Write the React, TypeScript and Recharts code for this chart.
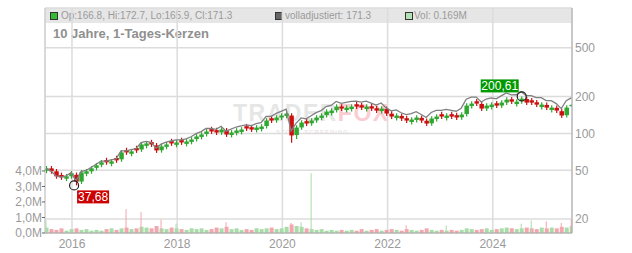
import React from "react";
import {
  ComposedChart,
  Bar,
  Line,
  XAxis,
  YAxis,
  CartesianGrid,
  Cell,
  ReferenceDot,
} from "recharts";

// candles sampled about every 5 weeks, mid 2015 -> mid 2025
const CLOSE = [
  51.9, 49.1, 44.7, 43.8, 44.7, 47.3, 40.5, 48.1, 49.1, 51.9,
  54.9, 58.1, 58.1, 59.2, 60.3, 70.0, 70.0, 71.4, 72.7, 81.3,
  82.9, 81.3, 72.7, 78.4, 81.3, 82.9, 84.5, 84.5, 86.0, 89.3,
  94.5, 98.1, 103.8, 103.8, 101.8, 107.7, 98.1, 101.8, 105.7, 107.7,
  109.7, 107.7, 111.8, 113.9, 127.5, 127.5, 134.9, 140.0, 145.4, 96.3,
  111.8, 122.8, 120.5, 127.5, 134.9, 140.0, 150.9, 153.7, 165.7, 159.6,
  162.6, 165.7, 165.7, 162.6, 165.7, 159.6, 153.7, 159.6, 145.4, 137.4,
  140.0, 132.4, 127.5, 129.9, 134.9, 127.5, 120.5, 132.4, 137.4, 137.4,
  140.0, 137.4, 134.9, 142.7, 168.8, 175.3, 175.3, 159.6, 168.8, 172.0,
  168.8, 178.6, 188.8, 181.9, 181.9, 192.4, 178.6, 178.6, 172.0, 172.0,
  162.6, 162.6, 153.7, 140.0, 162.6, 171.3,
];
const OPEN = [
  49.6, 51.9, 49.1, 45.8, 42.7, 44.7, 46.0, 40.5, 46.9, 49.1,
  52.4, 55.5, 60.7, 56.6, 63.0, 61.5, 73.2, 68.2, 76.0, 74.0,
  79.2, 85.0, 80.0, 73.0, 77.7, 86.6, 80.7, 88.3, 82.2, 85.3,
  90.0, 93.7, 99.0, 108.5, 106.4, 102.0, 106.0, 97.2, 101.0, 102.9,
  114.6, 112.5, 106.8, 108.8, 115.0, 133.2, 128.0, 134.9, 139.0, 140.0,
  97.0, 112.0, 125.9, 121.0, 128.0, 134.0, 141.0, 146.8, 155.0, 166.0,
  155.3, 158.2, 173.2, 169.9, 158.2, 166.8, 160.6, 152.4, 159.0, 145.0,
  133.7, 139.0, 133.2, 124.1, 128.8, 134.0, 127.0, 121.0, 131.2, 143.6,
  133.7, 143.6, 141.0, 135.5, 144.0, 167.4, 183.2, 174.0, 160.0, 164.3,
  176.4, 169.0, 179.0, 190.1, 173.7, 183.0, 191.0, 186.6, 179.7, 164.3,
  171.0, 155.3, 162.0, 152.0, 141.0, 166.8,
];
const HIGH = [
  54.3, 54.2, 51.3, 47.9, 46.7, 49.4, 48.0, 50.3, 51.3, 54.2,
  57.4, 60.7, 63.4, 61.9, 65.8, 73.2, 76.5, 74.6, 79.4, 85.0,
  86.6, 88.8, 83.6, 81.9, 85.0, 90.5, 88.3, 92.3, 89.9, 93.3,
  98.8, 102.5, 108.5, 113.4, 111.2, 112.5, 110.8, 106.4, 110.5, 112.5,
  119.8, 117.6, 116.8, 119.0, 133.2, 139.2, 141.0, 146.3, 151.9, 146.3,
  116.8, 128.3, 131.6, 133.2, 141.0, 146.3, 157.7, 160.6, 173.2, 173.5,
  169.9, 173.2, 181.0, 177.5, 173.2, 174.3, 167.8, 166.8, 166.2, 151.5,
  146.3, 145.3, 139.2, 135.7, 141.0, 140.0, 132.7, 138.4, 143.6, 150.1,
  146.3, 150.1, 147.3, 149.1, 176.4, 183.2, 191.4, 181.8, 176.4, 179.7,
  184.3, 186.6, 197.3, 198.7, 190.1, 200.61, 199.6, 195.0, 187.8, 179.7,
  178.7, 169.9, 169.3, 158.8, 169.9, 172.7,
];
const LOW = [
  47.4, 46.9, 42.7, 41.8, 40.8, 42.7, 37.68, 38.7, 44.8, 46.9,
  50.0, 53.0, 55.5, 54.0, 57.6, 58.7, 66.9, 65.1, 69.4, 70.7,
  75.6, 77.6, 69.4, 69.7, 74.2, 79.2, 77.1, 80.7, 78.5, 81.5,
  86.0, 89.5, 94.5, 99.1, 97.2, 97.4, 93.7, 92.8, 96.5, 98.3,
  104.8, 102.9, 102.0, 103.9, 109.8, 121.8, 122.3, 128.9, 132.8, 84.0,
  90.0, 107.0, 115.1, 115.6, 122.3, 128.0, 134.7, 140.2, 148.0, 152.4,
  148.3, 151.1, 158.2, 155.3, 151.1, 152.4, 146.8, 145.5, 138.9, 131.2,
  127.7, 126.4, 121.8, 118.5, 123.0, 121.8, 115.1, 115.6, 125.3, 131.2,
  127.7, 131.2, 128.8, 129.4, 137.5, 159.9, 167.4, 152.4, 152.8, 156.9,
  161.2, 161.4, 170.9, 173.7, 165.9, 174.8, 170.6, 170.6, 164.3, 156.9,
  155.3, 148.3, 146.8, 133.7, 134.7, 165.9,
];
// volladjustiert (grey line)
const ADJ = [
  52.0, 49.3, 45.0, 44.1, 45.1, 47.8, 41.0, 48.8, 49.9, 52.8,
  56.0, 59.4, 59.5, 60.8, 62.0, 72.1, 72.2, 73.8, 75.3, 84.3,
  86.1, 84.6, 75.8, 81.8, 85.0, 86.8, 88.6, 88.7, 90.4, 94.0,
  99.6, 103.6, 109.8, 110.0, 108.1, 114.6, 104.5, 108.6, 112.9, 115.2,
  117.6, 115.6, 120.1, 122.6, 137.5, 137.7, 145.9, 151.6, 157.8, 104.6,
  121.6, 133.8, 131.6, 139.5, 147.8, 153.7, 165.9, 169.2, 182.6, 176.0,
  179.5, 183.1, 183.3, 180.0, 183.6, 177.0, 170.6, 177.3, 161.7, 152.9,
  155.9, 147.6, 142.3, 145.1, 150.8, 142.7, 135.0, 148.4, 154.1, 154.3,
  157.4, 154.6, 151.9, 160.8, 190.4, 197.9, 198.1, 180.5, 191.1, 194.9,
  191.4, 202.7, 214.5, 206.8, 207.0, 219.2, 203.6, 203.6, 196.1, 196.1,
  185.4, 185.4, 175.2, 159.6, 185.4, 195.3,
];
// volume in millions
const VOLUME = [
  0.35, 0.25, 0.2, 0.3, 0.15, 0.25, 0.3, 0.2, 0.25, 0.15,
  0.2, 0.15, 0.25, 0.3, 0.2, 0.3, 0.35, 0.25, 0.3, 0.4,
  0.35, 0.3, 0.45, 0.3, 0.25, 0.35, 0.3, 0.25, 0.2, 0.3,
  0.25, 0.3, 0.2, 0.25, 0.35, 0.3, 0.4, 0.25, 0.3, 0.2,
  0.25, 0.2, 0.3, 0.25, 0.3, 0.35, 0.25, 0.3, 0.4, 0.55,
  0.45, 0.4, 0.3, 0.25, 0.2, 0.25, 0.15, 0.2, 0.15, 0.2,
  0.15, 0.2, 0.15, 0.25, 0.15, 0.2, 0.25, 0.15, 0.2, 0.25,
  0.2, 0.15, 0.25, 0.2, 0.15, 0.2, 0.3, 0.2, 0.15, 0.2,
  0.15, 0.2, 0.15, 0.2, 0.3, 0.25, 0.2, 0.25, 0.3, 0.2,
  0.25, 0.3, 0.35, 0.3, 0.25, 0.3, 0.35, 0.3, 0.25, 0.35,
  0.3, 0.35, 0.3, 0.4, 0.35, 0.45,
];
// single-day volume spikes (millions)
const SPIKE_DATES = [2015.54, 2017.07, 2017.31, 2017.7, 2018.0, 2018.97, 2020.15, 2020.34, 2020.5, 2022.34, 2023.1, 2024.5, 2024.7, 2024.99, 2025.26, 2025.49];
const SPIKE_VOLUME = [0.8, 1.55, 1.35, 0.85, 0.6, 0.7, 0.65, 0.7, 3.85, 0.5, 0.5, 0.6, 0.8, 0.75, 0.65, 0.85];
const SPIKE_UP = [true, false, false, false, true, false, false, true, true, false, true, true, true, false, false, false];

const YEAR_TICKS = [2016, 2018, 2020, 2022, 2024];
const PRICE_TICKS = [20, 50, 100, 200, 500];
const VOL_TICKS = [0, 1e6, 2e6, 3e6, 4e6];
const LOW_MARK = { t: 2016.04, v: 37.68 };
const HIGH_MARK = { t: 2024.55, v: 200.61 };

const DATES = CLOSE.map((_, i) => +(2015.506 + i * 0.0951).toFixed(4));

const UP = "#2fa82f";
const DOWN = "#cc1010";
const VOL_UP = "#a8dca8";
const VOL_DOWN = "#f2a6ae";
const FONT = '"Liberation Sans", Arial, sans-serif';
const TEXT = "#9a9a9a";

type Row = {
  t: number;
  o: number;
  h: number;
  l: number;
  c: number;
  adj: number;
  vol: number;
  up: boolean;
  spike?: number;
  spikeUp?: boolean;
};

const rows: Row[] = CLOSE.map((c, i) => ({
  t: DATES[i],
  o: OPEN[i],
  h: HIGH[i],
  l: LOW[i],
  c,
  adj: ADJ[i],
  vol: VOLUME[i] * 1e6,
  up: c >= OPEN[i],
}));

// put each spike on the nearest sampled day so the bars keep an even spacing
SPIKE_DATES.forEach((t, k) => {
  let best = 0;
  rows.forEach((r, i) => {
    if (Math.abs(r.t - t) < Math.abs(rows[best].t - t)) best = i;
  });
  rows[best].spike = SPIKE_VOLUME[k] * 1e6;
  rows[best].spikeUp = SPIKE_UP[k];
});

function Candle(props: any) {
  const { x, y, width, height, payload } = props;
  if (!payload || payload.l == null || !isFinite(y) || !isFinite(height)) return <g />;
  const lh = Math.log(payload.h);
  const ll = Math.log(payload.l);
  const at = (v: number) => y + (height * (lh - Math.log(v))) / (lh - ll);
  const color = payload.c >= payload.o ? UP : DOWN;
  const top = at(Math.max(payload.o, payload.c));
  const bot = at(Math.min(payload.o, payload.c));
  const cx = x + width / 2;
  return (
    <g>
      <line x1={cx} x2={cx} y1={y} y2={y + height} stroke={color} strokeWidth={1.2} />
      <rect x={x - 0.25} y={top} width={width + 0.5} height={Math.max(1, bot - top)} fill={color} />
    </g>
  );
}

function LowMarker(props: any) {
  const { cx, cy } = props;
  return (
    <g>
      <circle cx={cx} cy={cy} r={4.5} fill="none" stroke="#222" strokeWidth={1.2} />
      <rect x={cx + 3} y={cy + 5} width={32} height={13} fill="#cc0000" />
      <text x={cx + 19} y={cy + 15.5} textAnchor="middle" fill="#fff" fontSize={12} fontFamily={FONT}>
        37,68
      </text>
    </g>
  );
}

function HighMarker(props: any) {
  const { cx, cy } = props;
  return (
    <g>
      <circle cx={cx} cy={cy} r={4.5} fill="none" stroke="#222" strokeWidth={1.2} />
      <rect x={cx - 41} y={cy - 17} width={38} height={13} fill="#009900" />
      <text x={cx - 22} y={cy - 6.5} textAnchor="middle" fill="#fff" fontSize={12} fontFamily={FONT}>
        200,61
      </text>
    </g>
  );
}

const fmtVol = (v: number) => `${(v / 1e6).toFixed(1).replace(".", ",")}M`;

const legendBox = (left: number, fill: string) => (
  <span
    style={{
      position: "absolute",
      left,
      top: 4,
      width: 6,
      height: 6,
      background: fill,
      border: "1px solid #333",
    }}
  />
);

export default function App() {
  return (
    <div style={{ position: "absolute", left: 0, top: 0, width: 632, height: 253, background: "#fff", fontFamily: FONT }}>
      {/* header strip */}
      <div style={{ position: "absolute", left: 45, top: 8, width: 527, height: 15, background: "#e6e6e6", fontSize: 10, color: TEXT }}>
        {legendBox(5, "#33bb33")}
        <span style={{ position: "absolute", left: 16, top: 1.5 }}>Op:166.8, Hi:172.7, Lo:165.9, Cl:171.3</span>
        {legendBox(230, "#666")}
        <span style={{ position: "absolute", left: 240, top: 1.5 }}>volladjustiert: 171.3</span>
        {legendBox(360, "#b5e2b5")}
        <span style={{ position: "absolute", left: 369, top: 1.5 }}>Vol: 0.169M</span>
      </div>
      <div style={{ position: "absolute", left: 53, top: 26, fontSize: 13, fontWeight: "bold", color: "#8f8f8f", lineHeight: "15px" }}>
        10 Jahre, 1-Tages-Kerzen
      </div>
      {/* watermark */}
      <div style={{ position: "absolute", left: 233, top: 103, fontSize: 23, fontWeight: "bold", letterSpacing: 1.5, lineHeight: "20px" }}>
        <span style={{ color: "#e6e6e6" }}>TRADER</span>
        <span style={{ color: "#fbcdd2" }}>FOX</span>
      </div>
      <div style={{ position: "absolute", left: 276, top: 129, fontSize: 6, lineHeight: "6px", letterSpacing: 1, color: "#e2dada" }}>
        STOCK SCREENING
      </div>
      <div style={{ position: "absolute", left: 0, top: 0 }}>
        <ComposedChart width={632} height={253} data={rows} margin={{ top: 8, right: 10, bottom: 0, left: 5 }}>
          <XAxis
            xAxisId="p"
            dataKey="t"
            type="number"
            domain={[2015.487, 2025.506]}
            ticks={YEAR_TICKS}
            allowDataOverflow
            height={20}
            tickLine={false}
            tickSize={4}
            tickMargin={2}
            axisLine={{ stroke: "#aaa" }}
            tick={{ fill: TEXT, fontSize: 12, fontFamily: FONT }}
          />
          <XAxis xAxisId="v" dataKey="t" type="number" domain={[2015.487, 2025.506]} allowDataOverflow hide />
          <XAxis xAxisId="s" dataKey="t" type="number" domain={[2015.487, 2025.506]} allowDataOverflow hide />
          <YAxis
            yAxisId="price"
            orientation="right"
            scale="log"
            domain={[15.4, 1057]}
            ticks={PRICE_TICKS}
            allowDataOverflow
            width={50}
            tickLine={false}
            tickSize={3}
            tickMargin={0}
            axisLine={{ stroke: "#aaa" }}
            tick={{ fill: TEXT, fontSize: 12, fontFamily: FONT }}
          />
          <YAxis
            yAxisId="vol"
            orientation="left"
            domain={[0, 14.5e6]}
            ticks={VOL_TICKS}
            interval={0}
            tickFormatter={fmtVol}
            allowDataOverflow
            width={40}
            tickSize={3}
            tickMargin={0}
            tickLine={{ stroke: "#666" }}
            axisLine={{ stroke: "#ccc" }}
            tick={{ fill: TEXT, fontSize: 12, fontFamily: FONT }}
          />
          <CartesianGrid xAxisId="p" yAxisId="price" stroke="#dcdcdc" strokeWidth={1.5} />
          <Bar xAxisId="v" yAxisId="vol" dataKey="vol" barSize={4} isAnimationActive={false}>
            {rows.map((r, i) => (
              <Cell key={i} fill={r.up ? VOL_UP : VOL_DOWN} />
            ))}
          </Bar>
          <Bar xAxisId="s" yAxisId="vol" dataKey="spike" barSize={1} isAnimationActive={false}>
            {rows.map((r, i) => (
              <Cell key={i} fill={r.spikeUp ? VOL_UP : VOL_DOWN} />
            ))}
          </Bar>
          <Line
            xAxisId="p"
            yAxisId="price"
            dataKey="adj"
            stroke="#808080"
            strokeWidth={1.3}
            dot={false}
            isAnimationActive={false}
          />
          <Bar
            xAxisId="p"
            yAxisId="price"
            dataKey={(d: Row) => [d.l, d.h]}
            barSize={4}
            shape={<Candle />}
            isAnimationActive={false}
          />
          <ReferenceDot xAxisId="p" yAxisId="price" x={LOW_MARK.t} y={LOW_MARK.v} r={4.5} shape={(p: any) => <LowMarker {...p} />} />
          <ReferenceDot xAxisId="p" yAxisId="price" x={HIGH_MARK.t} y={HIGH_MARK.v} r={4.5} shape={(p: any) => <HighMarker {...p} />} />
        </ComposedChart>
      </div>
    </div>
  );
}
